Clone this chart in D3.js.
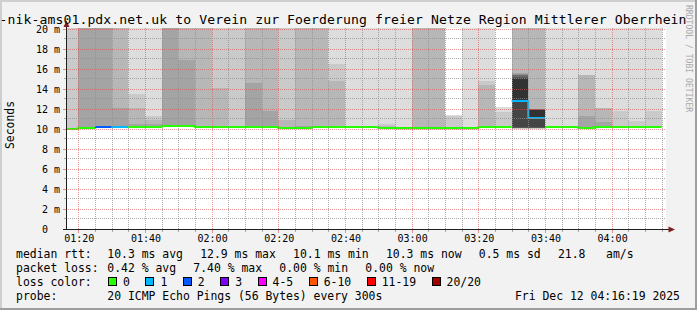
<!DOCTYPE html>
<html>
<head>
<meta charset="utf-8">
<script src="https://cdn.jsdelivr.net/npm/d3@7"></script>
<style>
  body { margin: 0; background: #f2f2f2; }
  svg { display: block; }
  text { font-family: "DejaVu Sans Mono", monospace; white-space: pre; }
</style>
</head>
<body>
<div id="chart"></div>
<script>
// step end times (5 minute steps)
const times = ["01:20","01:25","01:30","01:35","01:40","01:45","01:50","01:55","02:00","02:05","02:10","02:15",
  "02:20","02:25","02:30","02:35","02:40","02:45","02:50","02:55","03:00","03:05","03:10","03:15",
  "03:20","03:25","03:30","03:35","03:40","03:45","03:50","03:55","04:00","04:05","04:10","04:15"];

// median rtt per step (ms)
const median = [10.0,10.1,10.15,10.25,10.25,10.25,10.3,10.3,10.25,10.25,10.25,10.25,
  10.25,10.13,10.13,10.25,10.25,10.25,10.25,10.13,10.05,10.05,10.05,10.05,
  10.05,10.25,10.25,12.8,11.1,10.25,10.25,10.13,10.25,10.25,10.25,10.25];

// lost pings per step (of 20)
const loss = [0,0,2,1,0,0,0,0,0,0,0,0, 0,0,0,0,0,0,0,0,0,0,0,0, 0,0,0,1,1,0,0,0,0,0,0,0];

// sorted ping rtts per step (ms), null = lost
const pings = [
  [9.9,9.95,9.95,9.95,10,10,10,10,10,10, 10,10,10,10,10,10,10,10,22.4,25.1],
  [10,10.05,10.05,10.05,10.1,10.1,10.1,10.1,10.1,10.1, 10.1,10.1,10.1,10.1,10.1,10.1,21.2,22.8,24.5,27.0],
  [10.05,10.1,10.1,10.1,10.15,10.15,10.15,10.15,10.15,10.15, 10.15,10.15,10.15,10.15,10.15,10.15,20.9,23.4,null,null],
  [10.15,10.2,10.2,10.2,10.25,10.25,10.25,10.25,10.25,10.25, 10.25,10.25,10.25,10.25,10.25,10.25,12.1,21.6,24.0,null],
  [10.15,10.2,10.2,10.2,10.25,10.25,10.25,10.25,10.25,10.25, 10.25,10.25,10.25,10.25,10.25,10.25,10.55,12.1,13.5,23.0],
  [10.15,10.2,10.2,10.2,10.25,10.25,10.25,10.25,10.25,10.25, 10.25,10.25,10.25,10.25,10.25,10.25,10.5,10.9,11.3,22.1],
  [10.2,10.25,10.25,10.25,10.3,10.3,10.3,10.3,10.3,10.3, 10.3,10.3,10.3,10.3,10.3,10.3,20.8,22.5,24.1,26.3],
  [10.2,10.25,10.25,10.25,10.3,10.3,10.3,10.3,10.3,10.3, 10.3,10.3,10.3,10.3,10.3,10.3,16.9,21.4,23.3,25.8],
  [10.15,10.2,10.2,10.2,10.25,10.25,10.25,10.25,10.25,10.25, 10.25,10.25,10.25,10.25,10.25,10.25,10.25,20.6,22.0,24.7],
  [10.15,10.2,10.2,10.2,10.25,10.25,10.25,10.25,10.25,10.25, 10.25,10.25,10.25,10.25,10.25,10.25,10.25,14.1,21.0,23.6],
  [10.15,10.2,10.2,10.2,10.25,10.25,10.25,10.25,10.25,10.25, 10.25,10.25,10.25,10.25,10.25,10.25,10.25,10.25,20.7,22.9],
  [10.15,10.2,10.2,10.2,10.25,10.25,10.25,10.25,10.25,10.25, 10.25,10.25,10.25,10.25,10.25,10.25,14.6,21.8,23.1,25.2],
  [10.15,10.2,10.2,10.2,10.25,10.25,10.25,10.25,10.25,10.25, 10.25,10.25,10.25,10.25,10.25,10.25,11.8,20.9,22.4,24.0],
  [10.05,10.1,10.1,10.1,10.13,10.13,10.13,10.13,10.13,10.13, 10.13,10.13,10.13,10.13,10.13,10.13,10.13,10.9,21.5,23.8],
  [10.05,10.1,10.1,10.1,10.13,10.13,10.13,10.13,10.13,10.13, 10.13,10.13,10.13,10.13,10.13,10.13,10.35,20.5,21.9,24.4],
  [10.15,10.2,10.2,10.2,10.25,10.25,10.25,10.25,10.25,10.25, 10.25,10.25,10.25,10.25,10.25,10.25,10.25,21.1,22.6,25.0],
  [10.15,10.2,10.2,10.2,10.25,10.25,10.25,10.25,10.25,10.25, 10.25,10.25,10.25,10.25,10.25,10.25,10.25,14.8,16.5,22.2],
  [10.15,10.2,10.2,10.2,10.25,10.25,10.25,10.25,10.25,10.25, 10.25,10.25,10.25,10.25,10.25,10.25,10.25,10.25,10.25,21.3],
  [10.15,10.2,10.2,10.2,10.25,10.25,10.25,10.25,10.25,10.25, 10.25,10.25,10.25,10.25,10.25,10.25,10.25,10.25,10.25,23.5],
  [10.05,10.1,10.1,10.1,10.13,10.13,10.13,10.13,10.13,10.13, 10.13,10.13,10.13,10.13,10.13,10.13,10.13,10.35,10.5,21.7],
  [9.95,10.0,10.0,10.0,10.05,10.05,10.05,10.05,10.05,10.05, 10.05,10.05,10.05,10.05,10.05,10.05,10.05,10.05,10.05,22.6],
  [9.95,10.0,10.0,10.0,10.05,10.05,10.05,10.05,10.05,10.05, 10.05,10.05,10.05,10.05,10.05,10.05,10.05,20.4,22.1,24.9],
  [9.95,10.0,10.0,10.0,10.05,10.05,10.05,10.05,10.05,10.05, 10.05,10.05,10.05,10.05,10.05,10.05,10.05,21.2,23.0,25.5],
  [9.95,10.0,10.0,10.0,10.05,10.05,10.05,10.05,10.05,10.05, 10.05,10.05,10.05,10.05,10.05,10.05,10.05,10.05,11.3,11.45],
  [9.95,10.0,10.0,10.0,10.05,10.05,10.05,10.05,10.05,10.05, 10.05,10.05,10.05,10.05,10.05,10.05,10.05,10.05,10.05,21.9],
  [10.15,10.2,10.2,10.2,10.25,10.25,10.25,10.25,10.25,10.25, 10.25,10.25,10.25,10.25,10.25,10.25,10.25,14.4,14.8,22.7],
  [10.15,10.2,10.2,10.2,10.25,10.25,10.25,10.25,10.25,10.25, 10.25,10.25,10.25,10.25,10.25,10.25,10.25,10.25,11.7,12.2],
  [10.0,10.05,10.1,10.1,10.15,10.15,10.15,10.15,10.25,12.8, 15.05,15.15,15.25,15.4,15.45,15.55,15.65,21.8,24.2,null],
  [10.0,10.05,10.1,10.1,10.1,10.15,10.15,10.15,10.2,11.1, 11.9,11.92,11.95,11.97,12.0,12.02,12.05,21.0,23.5,null],
  [10.15,10.2,10.2,10.2,10.25,10.25,10.25,10.25,10.25,10.25, 10.25,10.25,10.25,10.25,10.25,10.25,10.25,10.25,10.25,22.3],
  [10.15,10.2,10.2,10.2,10.25,10.25,10.25,10.25,10.25,10.25, 10.25,10.25,10.25,10.25,10.25,10.25,10.25,10.25,10.25,24.1],
  [10.05,10.1,10.1,10.1,10.13,10.13,10.13,10.13,10.13,10.13, 10.13,10.13,10.13,10.13,10.13,10.13,11.3,15.4,15.4,23.2],
  [10.15,10.2,10.2,10.2,10.25,10.25,10.25,10.25,10.25,10.25, 10.25,10.25,10.25,10.25,10.25,10.25,10.7,12.1,12.1,21.4],
  [10.15,10.2,10.2,10.2,10.25,10.25,10.25,10.25,10.25,10.25, 10.25,10.25,10.25,10.25,10.25,10.25,10.25,10.25,11.8,22.0],
  [10.15,10.2,10.2,10.2,10.25,10.25,10.25,10.25,10.25,10.25, 10.25,10.25,10.25,10.25,10.25,10.25,10.25,10.25,10.8,21.6],
  [10.15,10.2,10.2,10.2,10.25,10.25,10.25,10.25,10.25,10.25, 10.25,10.25,10.25,10.25,10.25,10.25,10.25,10.35,11.8,23.9]
];

const xTicks = ["01:20","01:40","02:00","02:20","02:40","03:00","03:20","03:40","04:00"];
const yTicks = [0,2,4,6,8,10,12,14,16,18,20];

const lossLabels = ["0","1","2","3","4-5","6-10","11-19","20/20"];
const lossColors = ["#26ff00","#00b8ff","#0059ff","#7e00ff","#ff00ff","#ff5500","#ff0000","#a10000"];

const rttStats = ["10.3 ms avg","12.9 ms max","10.1 ms min","10.3 ms now","0.5 ms sd","21.8   am/s"];
const lossStats = ["0.42 % avg","7.40 % max","0.00 % min","0.00 % now"];
const title = "-nik-ams01.pdx.net.uk to Verein zur Foerderung freier Netze Region Mittlerer Oberrhein";
const probe = "20 ICMP Echo Pings (56 Bytes) every 300s";
const stamp = "Fri Dec 12 04:16:19 2025";

// ---- layout
const W = 697, H = 310;
const xL = 66, xR = 666, yT = 28, yB = 229;
const cw = 6.88; // legend char advance

const parseTime = d3.timeParse("%H:%M");
const endTime = d3.timeParse("%H:%M:%S")("04:16:19");
const startTime = d3.timeHour.offset(endTime, -3);

const x = d3.scaleTime().domain([startTime, endTime]).range([xL, xR]);
const y = d3.scaleLinear().domain([0, 20]).range([229, 29]);

const svg = d3.select("#chart").append("svg")
  .attr("width", W)
  .attr("height", H);

// background with rrdtool style shading
svg.append("rect").attr("width", W).attr("height", H).attr("fill", "#f2f2f2");
svg.append("path").attr("d", `M0,0H${W}V2H2V${H}H0Z`).attr("fill", "#cfcfcf");
svg.append("path").attr("d", `M${W},${H}H0V${H - 2}H${W - 2}V0H${W}Z`).attr("fill", "#9e9e9e");

// canvas
svg.append("rect")
  .attr("x", xL + 1).attr("y", yT)
  .attr("width", xR - xL - 1).attr("height", yB - yT)
  .attr("fill", "#ffffff");

svg.append("clipPath").attr("id", "clip")
  .append("rect")
  .attr("x", xL + 1).attr("y", yT)
  .attr("width", xR - xL - 1).attr("height", yB - yT);

// smoke bands: band i spans ping i .. ping (21-i)
const grey = (i) => {
  const c = Math.floor(190 / 10 * (10 - i)) + 50;
  return d3.rgb(c, c, c).formatHex();
};
const bands = [];
times.forEach((t, k) => {
  const t1 = parseTime(t), t0 = d3.timeMinute.offset(t1, -5);
  const p = pings[k];
  for (let i = 1; i <= 10; i++) {
    const lo = p[i - 1], hi = p[20 - i];
    if (lo == null || hi == null) continue;
    bands.push({ x0: x(t0), x1: x(t1), lo, hi, i });
  }
});

const plot = svg.append("g").attr("clip-path", "url(#clip)");
plot.append("g")
  .attr("shape-rendering", "crispEdges")
  .selectAll("rect")
  .data(bands)
  .join("rect")
  .attr("x", (d) => d.x0)
  .attr("width", (d) => d.x1 - d.x0)
  .attr("y", (d) => y(d.hi))
  .attr("height", (d) => Math.max(0, y(d.lo) - y(d.hi)))
  .attr("fill", (d) => grey(d.i));

// median line, coloured by loss
const lossClass = (l) => l === 0 ? 0 : l === 1 ? 1 : l === 2 ? 2 : l === 3 ? 3 : l <= 5 ? 4 : l <= 10 ? 5 : l <= 19 ? 6 : 7;
const runs = [];
times.forEach((t, k) => {
  const c = lossClass(loss[k]);
  const t1 = parseTime(t), t0 = d3.timeMinute.offset(t1, -5);
  const ym = Math.round(y(median[k]));
  const pts = [[x(t0), ym], [x(t1), ym]];
  const last = runs[runs.length - 1];
  if (last && last.c === c) last.pts.push(...pts);
  else runs.push({ c, pts });
});
plot.append("g")
  .selectAll("path")
  .data(runs)
  .join("path")
  .attr("d", (d) => d3.line()(d.pts))
  .attr("fill", "none")
  .attr("stroke", (d) => lossColors[d.c])
  .attr("stroke-width", 2);

// grid (drawn over the data)
const gridMinor = "rgba(143,143,143,0.75)";
const gridMajor = "rgba(222,79,79,0.6)";
const majorX = xTicks.map((s) => parseTime(s));
const minorX = d3.timeMinute.every(5).range(startTime, endTime)
  .filter((d) => d.getMinutes() % 20 !== 0);
const px = (v) => Math.round(v) + 0.5;

const grid = svg.append("g").attr("stroke-width", 1).attr("shape-rendering", "crispEdges");
grid.selectAll(".vmin").data(minorX).join("line")
  .attr("x1", (d) => px(x(d))).attr("x2", (d) => px(x(d)))
  .attr("y1", yT).attr("y2", yB)
  .attr("stroke", gridMinor).attr("stroke-dasharray", "1,1");
grid.selectAll(".vmaj").data(majorX).join("line")
  .attr("x1", (d) => px(x(d))).attr("x2", (d) => px(x(d)))
  .attr("y1", yT).attr("y2", yB)
  .attr("stroke", gridMajor).attr("stroke-dasharray", "1,1");
const minorY = d3.range(1, 20, 2);
const majorY = yTicks.filter((v) => v > 0);
grid.selectAll(".hmin").data(minorY).join("line")
  .attr("x1", xL).attr("x2", xR)
  .attr("y1", (d) => px(y(d) - 1)).attr("y2", (d) => px(y(d) - 1))
  .attr("stroke", gridMinor).attr("stroke-dasharray", "1,1");
grid.selectAll(".hmaj").data(majorY).join("line")
  .attr("x1", xL).attr("x2", xR)
  .attr("y1", (d) => px(y(d))).attr("y2", (d) => px(y(d)))
  .attr("stroke", gridMajor).attr("stroke-dasharray", "1,1");

// small ticks outside the canvas
grid.selectAll(".tx").data(minorX).join("line")
  .attr("x1", (d) => px(x(d))).attr("x2", (d) => px(x(d)))
  .attr("y1", yB + 1).attr("y2", yB + 3).attr("stroke", gridMinor);
grid.selectAll(".txm").data(majorX).join("line")
  .attr("x1", (d) => px(x(d))).attr("x2", (d) => px(x(d)))
  .attr("y1", yB + 1).attr("y2", yB + 4).attr("stroke", gridMajor);
grid.selectAll(".ty").data(majorY).join("line")
  .attr("x1", xL - 3).attr("x2", xL)
  .attr("y1", (d) => px(y(d))).attr("y2", (d) => px(y(d))).attr("stroke", gridMajor);
grid.selectAll(".tym").data(minorY).join("line")
  .attr("x1", xL - 2).attr("x2", xL)
  .attr("y1", (d) => px(y(d) - 1)).attr("y2", (d) => px(y(d) - 1)).attr("stroke", gridMinor);

// axes and arrows
const axisColor = "#1f1f1f", arrowColor = "#801f1f";
svg.append("line").attr("x1", xL + 0.5).attr("x2", xL + 0.5).attr("y1", 24).attr("y2", yB + 1)
  .attr("stroke", axisColor).attr("shape-rendering", "crispEdges");
svg.append("line").attr("x1", xL - 3).attr("x2", 670).attr("y1", yB + 0.5).attr("y2", yB + 0.5)
  .attr("stroke", axisColor).attr("shape-rendering", "crispEdges");
svg.append("path").attr("d", `M${xL + 0.5},20.5L${xL + 3.5},27L${xL - 2.5},27Z`).attr("fill", arrowColor);
svg.append("path").attr("d", `M675,${yB + 0.5}L668.5,${yB - 2.5}L668.5,${yB + 3.5}Z`).attr("fill", arrowColor);

// axis labels
svg.append("g")
  .attr("font-size", 10)
  .selectAll("text")
  .data(yTicks)
  .join("text")
  .attr("x", (d) => d === 0 ? 48 : 60)
  .attr("y", (d) => y(d) + 4)
  .attr("text-anchor", "end")
  .text((d) => d === 0 ? "0" : `${d} m`);

svg.append("g")
  .attr("font-size", 10)
  .attr("text-anchor", "middle")
  .selectAll("text")
  .data(xTicks)
  .join("text")
  .attr("x", (d) => x(parseTime(d)) + 1)
  .attr("y", 242)
  .text((d) => d);

svg.append("text")
  .attr("transform", "translate(14,125) rotate(-90)")
  .attr("text-anchor", "middle")
  .attr("font-size", 11.43)
  .text("Seconds");

// title and watermark
svg.append("text")
  .attr("x", -0.5).attr("y", 24)
  .attr("font-size", 13.1)
  .attr("textLength", 687).attr("lengthAdjust", "spacing")
  .text(title);

svg.append("text")
  .attr("transform", "translate(685.5,5) rotate(90)")
  .attr("font-size", 8.1)
  .attr("fill", "#a9a9a9")
  .text("RRDTOOL / TOBI OETIKER");

// legend
const legend = svg.append("g").attr("font-size", 11.43);
const col = 107.3, gap = 17.2;
const rowY = [258.3, 272, 286, 300];

legend.append("text").attr("x", 16).attr("y", rowY[0]).text("median rtt:");
let cx = col;
rttStats.forEach((s) => {
  legend.append("text").attr("x", cx).attr("y", rowY[0]).text(s);
  cx += s.length * cw + gap;
});

legend.append("text").attr("x", 16).attr("y", rowY[1]).text("packet loss:");
cx = col;
lossStats.forEach((s) => {
  legend.append("text").attr("x", cx).attr("y", rowY[1]).text(s);
  cx += s.length * cw + gap;
});

legend.append("text").attr("x", 16).attr("y", rowY[2]).text("loss color:");
cx = 108;
lossLabels.forEach((s, i) => {
  legend.append("rect")
    .attr("x", cx + 0.5).attr("y", rowY[2] - 8.5)
    .attr("width", 8).attr("height", 8)
    .attr("fill", lossColors[i]).attr("stroke", "#000").attr("stroke-width", 1)
    .attr("shape-rendering", "crispEdges");
  legend.append("text").attr("x", cx + 15).attr("y", rowY[2]).text(s);
  cx += 15 + s.length * cw + 15.5;
});

legend.append("text").attr("x", 16).attr("y", rowY[3]).text("probe:");
legend.append("text").attr("x", col).attr("y", rowY[3]).text(probe);
legend.append("text").attr("x", 680).attr("y", rowY[3]).attr("text-anchor", "end").text(stamp);
</script>
</body>
</html>
